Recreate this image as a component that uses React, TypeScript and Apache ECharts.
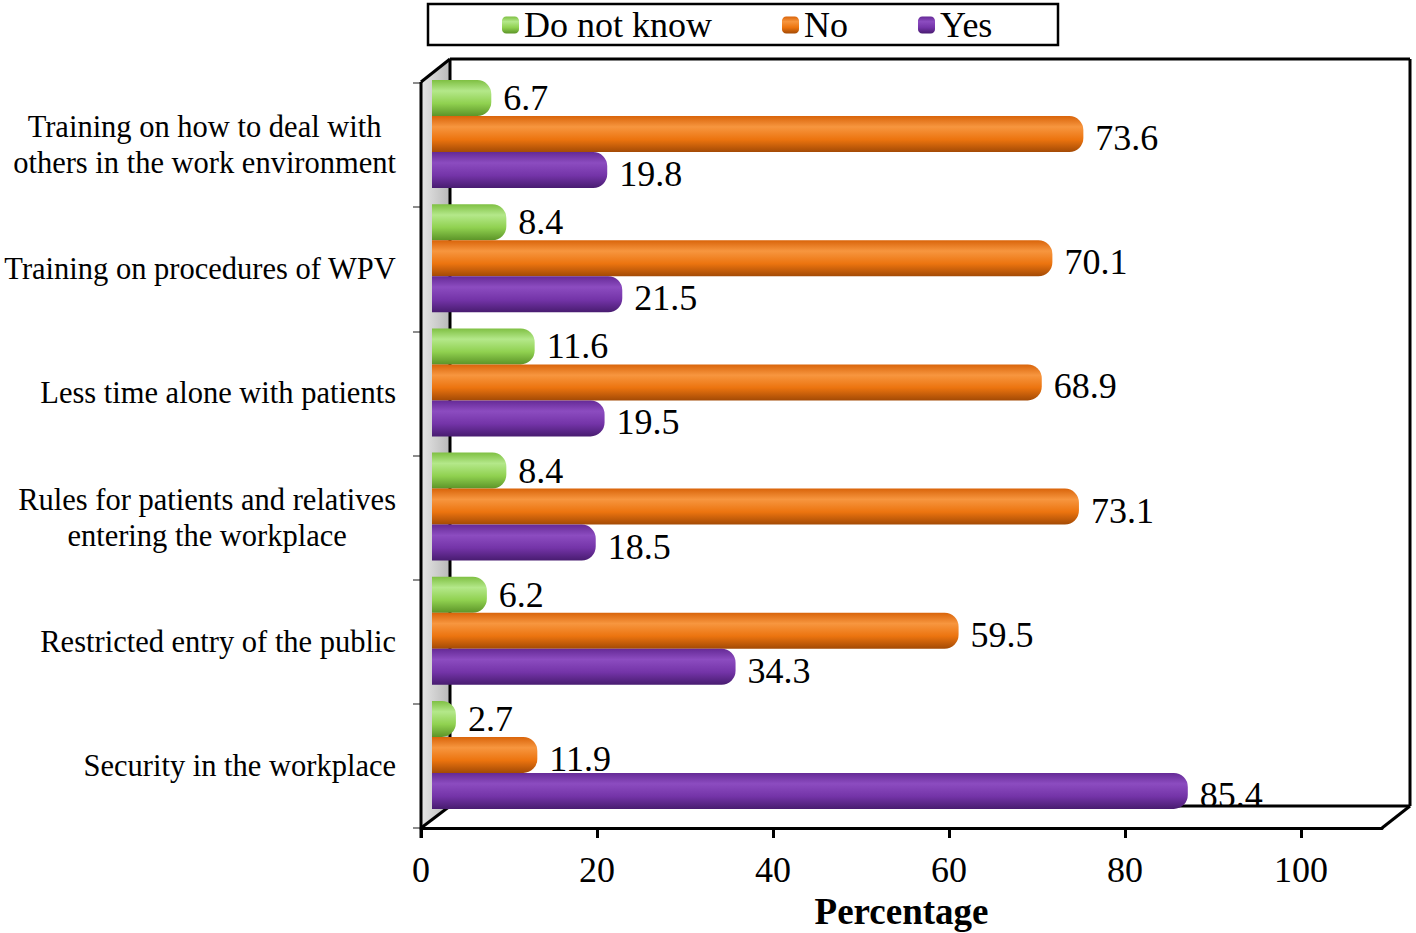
import React, { useEffect, useRef } from "react";
import * as echarts from "echarts";

const categories = [
  "Training on how to deal with\nothers in the work environment",
  "Training on procedures of WPV",
  "Less time alone with patients",
  "Rules for patients and relatives\nentering the workplace",
  "Restricted entry of the public",
  "Security in the workplace",
];
const doNotKnow = [6.7, 8.4, 11.6, 8.4, 6.2, 2.7];
const no = [73.6, 70.1, 68.9, 73.1, 59.5, 11.9];
const yes = [19.8, 21.5, 19.5, 18.5, 34.3, 85.4];
const xTicks = [0, 20, 40, 60, 80, 100];
const seriesNames = ["Do not know", "No", "Yes"];

const FONT = "'Liberation Serif', 'Times New Roman', serif";

function grad(c0: string, c1: string, c2: string, c3: string) {
  return new echarts.graphic.LinearGradient(0, 0, 0, 1, [
    { offset: 0, color: c0 },
    { offset: 0.3, color: c1 },
    { offset: 0.65, color: c2 },
    { offset: 1, color: c3 },
  ]);
}

export default function App() {
  const ref = useRef<HTMLDivElement>(null);
  useEffect(() => {
    const chart = echarts.init(ref.current!, null, { renderer: "svg" });
    const line = (x1: number, y1: number, x2: number, y2: number) => ({
      type: "line",
      shape: { x1, y1, x2, y2 },
      style: { stroke: "#000", lineWidth: 3 },
      z: 1,
    });
    const mkSeries = (name: string, data: number[], color: any, dy: number) => ({
      type: "bar",
      name,
      data,
      xAxisIndex: 0,
      yAxisIndex: 0,
      barWidth: 36,
      barGap: "0%",
      itemStyle: { color, borderRadius: [0, 14, 14, 0] },
      label: {
        show: true,
        position: "right",
        distance: 12,
        offset: [0, dy],
        fontSize: 36,
        fontFamily: FONT,
        color: "#000",
      },
    });
    chart.setOption({
      animation: false,
      backgroundColor: "#fff",
      legend: {
        data: seriesNames,
        left: 497,
        top: 2,
        itemWidth: 17,
        itemHeight: 17,
        itemGap: 70,
        textStyle: { fontSize: 36, fontFamily: FONT, color: "#000" },
        z: 10,
      },
      graphic: [
        {
          type: "rect",
          shape: { x: 428, y: 4, width: 630, height: 41 },
          style: { fill: "#fff", stroke: "#000", lineWidth: 2.5 },
          z: 0,
        },
        {
          type: "polygon",
          shape: { points: [[421, 82], [450, 59], [450, 806], [421, 829]] },
          style: {
            fill: new echarts.graphic.LinearGradient(0, 0, 1, 0, [
              { offset: 0, color: "#e6e6e6" },
              { offset: 1, color: "#b8b8b8" },
            ]),
          },
          z: 0,
        },
        line(450, 59, 1410, 59),
        line(1410, 59, 1410, 806),
        line(450, 59, 450, 806),
        line(421, 82, 450, 59),
        line(421, 82, 421, 838),
        line(450, 806, 1410, 806),
        line(421, 828, 450, 806),
        line(1382, 828, 1410, 806),
      ],
      grid: [
        {
          left: 432,
          width: 885,
          top: 72,
          height: 745,
          containLabel: false,
          outerBoundsMode: "none",
        },
        {
          left: 421,
          width: 961,
          top: 83,
          height: 745,
          containLabel: false,
          outerBoundsMode: "none",
        },
      ],
      xAxis: [
        { type: "value", gridIndex: 0, min: 0, max: 100, show: false },
        {
          type: "value",
          gridIndex: 1,
          min: 0,
          max: 109.2,
          interval: 20,
          splitLine: { show: false },
          axisLine: { show: true, lineStyle: { color: "#000", width: 3 } },
          axisTick: {
            show: true,
            length: 10,
            lineStyle: { color: "#000", width: 3 },
            customValues: xTicks,
          },
          axisLabel: {
            customValues: xTicks,
            fontSize: 36,
            fontFamily: FONT,
            color: "#000",
            margin: 24,
          },
          name: "Percentage",
          nameLocation: "middle",
          nameGap: 64,
          nameTextStyle: {
            fontSize: 37,
            fontWeight: "bold",
            fontFamily: FONT,
            color: "#000",
          },
        },
      ],
      yAxis: [
        {
          type: "category",
          gridIndex: 0,
          data: categories,
          inverse: true,
          show: false,
        },
        {
          type: "category",
          gridIndex: 1,
          data: categories,
          inverse: true,
          axisLine: { show: false },
          axisTick: {
            show: true,
            length: 8,
            lineStyle: { color: "#666", width: 1.5 },
          },
          axisLabel: {
            margin: 25,
            formatter: (v: string) =>
              v
                .split("\n")
                .map((l) => `{c|${l}}`)
                .join("\n"),
            rich: {
              c: {
                align: "center",
                fontSize: 30.5,
                lineHeight: 36,
                fontFamily: FONT,
                color: "#000",
              },
            },
          },
        },
      ],
      series: [
        mkSeries(
          seriesNames[0],
          doNotKnow,
          grad("#7fc043", "#b4e88a", "#90d150", "#5c9428"),
          0
        ),
        mkSeries(
          seriesNames[1],
          no,
          grad("#d9640a", "#f7963f", "#ec740f", "#a34a05"),
          4
        ),
        mkSeries(
          seriesNames[2],
          yes,
          grad("#652a96", "#8c4cc0", "#7434a8", "#481c70"),
          4
        ),
      ],
    });
    return () => chart.dispose();
  }, []);
  return (
    <div
      ref={ref}
      style={{ position: "absolute", left: 0, top: 0, width: 1416, height: 933 }}
    />
  );
}
